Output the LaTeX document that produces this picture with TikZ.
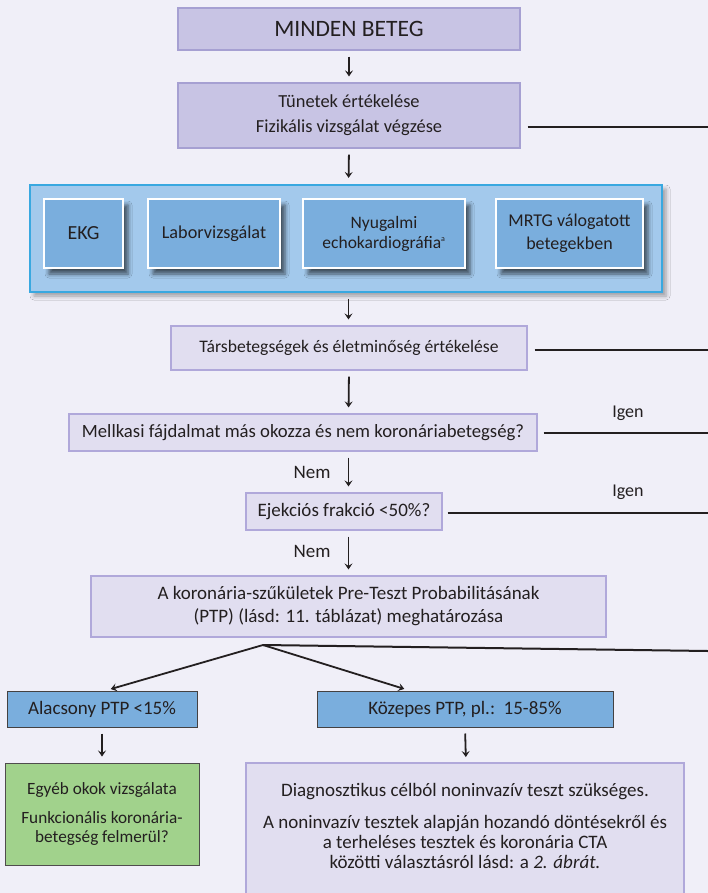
\documentclass[tikz,border=0pt]{standalone}
\usepackage{fontspec}
\setmainfont{Carlito}
\usetikzlibrary{arrows.meta,shadows.blur}

\definecolor{pagebg}{RGB}{240,239,248}
\definecolor{ink}{RGB}{35,31,32}
\definecolor{lavdark}{RGB}{200,196,228}
\definecolor{lavdarkline}{RGB}{166,160,210}
\definecolor{lavlight}{RGB}{225,222,240}
\definecolor{lavlightline}{RGB}{176,168,218}
\definecolor{panelfill}{RGB}{163,201,236}
\definecolor{panelline}{RGB}{57,168,224}
\definecolor{testfill}{RGB}{122,174,221}
\definecolor{okgreen}{RGB}{161,210,140}

\tikzset{
  basefont/.style={font=\fontsize{18.5}{21}\selectfont, text=ink},
  box/.style={basefont, rectangle, inner sep=0pt, align=center},
  headbox/.style={box, fill=lavdark, draw=lavdarkline, line width=1.2pt},
  stepbox/.style={box, fill=lavlight, draw=lavlightline, line width=1.2pt},
  panel/.style={rectangle, inner sep=0pt, fill=panelfill, draw=panelline, line width=2.2pt,
    blur shadow={shadow xshift=4pt, shadow yshift=-4pt, shadow blur radius=4pt, shadow opacity=35}},
  testbox/.style={box, fill=testfill, draw=white, line width=1.1pt,
    blur shadow={shadow xshift=5pt, shadow yshift=-6pt, shadow blur radius=4pt, shadow opacity=60}},
  classbox/.style={box, fill=testfill, draw=ink!85, line width=1pt},
  greenbox/.style={box, fill=okgreen, draw=ink!80, line width=1pt},
  label/.style={basefont, inner sep=0pt},
  arr/.style={draw=ink, line width=1.8pt, -{Stealth[length=6pt,width=8pt,inset=2.5pt]},
    shorten <=6pt, shorten >=6pt},
  exit/.style={draw=ink, line width=2.4pt},
}

\begin{document}
\begin{tikzpicture}[x=1pt,y=-1pt]
  % page
  \fill[pagebg] (0,0) rectangle (708,893);
  \useasboundingbox (0,0) rectangle (708,893);
  \clip (0,0) rectangle (708,893);

  \coordinate (spine) at (348.5,0);
  \coordinate (redge) at (708,0);

  % main column
  \node[headbox, minimum width=342pt, minimum height=42pt,
        font=\fontsize{23.5}{26}\selectfont] (minden) at (349,29) {MINDEN BETEG};
  \node[headbox, minimum width=342pt, minimum height=65pt,
        font=\fontsize{18.4}{25}\selectfont] (tunetek) at (349,115.5)
        {Tünetek értékelése\\Fizikális vizsgálat végzése};

  % baseline tests panel
  \node[panel, minimum width=632pt, minimum height=107pt] (panel) at (346,238.5) {};
  \node[testbox, minimum width=79pt, minimum height=69pt, font=\fontsize{20}{22}\selectfont]
        (ekg) at (83.5,233.5) {EKG};
  \node[testbox, minimum width=132pt, minimum height=69pt, font=\fontsize{18.2}{21}\selectfont]
        (labor) at (214,233.5) {Laborvizsgálat};
  \node[testbox, minimum width=162pt, minimum height=69pt,
        font=\fontsize{17.5}{20}\selectfont] (echo) at (384,233.5)
        {Nyugalmi\\echokardiográfia\textsuperscript{\fontsize{8}{8}\selectfont a}};
  \node[testbox, minimum width=147pt, minimum height=69pt,
        font=\fontsize{18}{23}\selectfont] (mrtg) at (569.5,233.5)
        {MRTG válogatott\\betegekben};

  \node[stepbox, minimum width=356pt, minimum height=44pt, font=\fontsize{17.6}{21}\selectfont]
        (tars) at (349,348) {Társbetegségek és életminőség értékelése};
  \node[stepbox, minimum width=468pt, minimum height=37pt, font=\fontsize{18.7}{21}\selectfont]
        (mell) at (303,432.5) {Mellkasi fájdalmat más okozza és nem koronáriabetegség?};
  \node[stepbox, minimum width=196pt, minimum height=37pt, font=\fontsize{19}{21}\selectfont]
        (ejek) at (344,511.5) {Ejekciós frakció <50\%?};
  \node[stepbox, minimum width=515pt, minimum height=61pt,
        font=\fontsize{19}{23}\selectfont] (ptp) at (348.5,606.5)
        {A koronária-szűkületek Pre-Teszt Probabilitásának\\(PTP) (lásd: 11. táblázat) meghatározása};

  % PTP classes
  \node[classbox, minimum width=190pt, minimum height=36pt, font=\fontsize{19}{21}\selectfont]
        (alac) at (102,709) {Alacsony PTP <15\%};
  \node[classbox, minimum width=296pt, minimum height=36pt, font=\fontsize{19}{21}\selectfont]
        (koz) at (465,709) {Közepes PTP, pl.:\ \ 15-85\%};

  \node[greenbox, minimum width=194pt, minimum height=102pt,
        font=\fontsize{17.2}{19}\selectfont] (green) at (102,814)
        {Egyéb okok vizsgálata\\[10pt]Funkcionális koronária-\\betegség felmerül?};

  % open box running off the lower edge
  \draw[fill=lavlight, draw=lavlightline, line width=1.2pt] (246,763) rectangle (684,910);
  \coordinate (diagtop) at (466,763);
  \node[label, align=center, font=\fontsize{19}{20}\selectfont] (diag) at (465,826)
        {Diagnosztikus célból noninvazív teszt szükséges.\\[12pt]
         A noninvazív tesztek alapján hozandó döntésekről és\\
         a terheléses tesztek és koronária CTA\\
         közötti választásról lásd: a \textit{2. ábrát.}};

  % downward flow
  \draw[arr] (minden.south) -- (tunetek.north);
  \draw[arr] (tunetek.south) -- (spine |- panel.north);
  \draw[arr] (spine |- panel.south) -- (spine |- tars.north);
  \draw[arr] (tars.south) -- (spine |- mell.north);
  \draw[arr] (spine |- mell.south) -- (spine |- ejek.north);
  \draw[arr] (spine |- ejek.south) -- (spine |- ptp.north);

  \node[label, font=\fontsize{19}{21}\selectfont] (nem1) at (312,472) {Nem};
  \node[label, font=\fontsize{19}{21}\selectfont] (nem2) at (312,551) {Nem};

  % branching below the PTP box
  \coordinate (br) at (263,645);
  \coordinate (alacin) at (104,691);
  \coordinate (kozin) at (411,691);
  \coordinate (ptpexit) at (708,651);
  \draw[arr, shorten <=0pt, shorten >=7pt] (br) -- (alacin);
  \draw[arr, shorten <=0pt, shorten >=7pt] (br) -- (kozin);
  \draw[draw=ink, line width=2pt] (br) -- (ptpexit);

  \draw[arr] (alac.south) -- (green.north);
  \draw[arr] (koz.south) -- (diagtop);

  % exits to the right
  \draw[exit] ([xshift=7pt,yshift=-11.5pt]tunetek.east) coordinate (e1) -- (e1 -| redge);
  \draw[exit] ([xshift=7pt,yshift=-2pt]tars.east) coordinate (e2) -- (e2 -| redge);
  \draw[exit] ([xshift=6pt,yshift=-0.5pt]mell.east) coordinate (e3) -- (e3 -| redge);
  \draw[exit] ([xshift=5pt,yshift=-1.5pt]ejek.east) coordinate (e4) -- (e4 -| redge);

  \node[label, font=\fontsize{18}{21}\selectfont] (igen1) at (628,413) {Igen};
  \node[label, font=\fontsize{18}{21}\selectfont] (igen2) at (628,492) {Igen};
\end{tikzpicture}
\end{document}
